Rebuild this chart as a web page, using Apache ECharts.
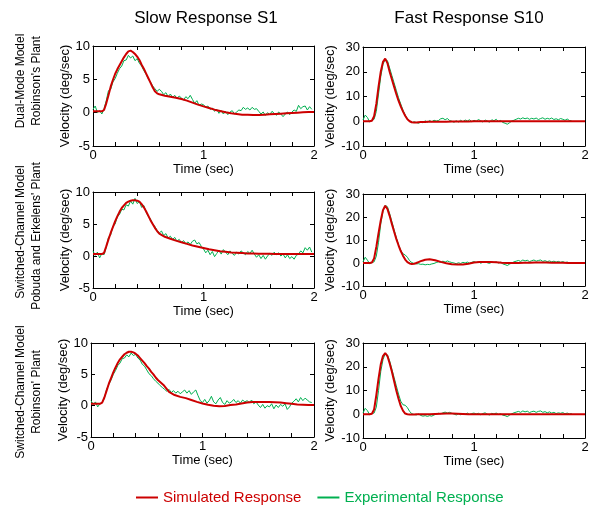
<!DOCTYPE html>
<html><head><meta charset="utf-8">
<script src="https://cdn.jsdelivr.net/npm/echarts/dist/echarts.min.js"></script>
<style>html,body{margin:0;padding:0;background:#fff}#c{width:592px;height:508px}</style>
</head><body><div id="c"></div>
<script>
// Time grid of the simulated curves (sec)
const simT = [0,0.02,0.04,0.06,0.08,0.10,0.12,0.14,0.16,0.18,0.20,0.22,0.24,0.26,0.28,0.30,0.32,0.34,0.36,0.38,0.40,0.42,0.44,0.46,0.48,0.50,0.52,0.54,0.56,0.58,0.60,0.65,0.70,0.75,0.80,0.85,0.90,0.95,1.00,1.05,1.10,1.15,1.20,1.25,1.30,1.35,1.40,1.45,1.50,1.55,1.60,1.65,1.70,1.75,1.80,1.85,1.90,1.95,2.00];
// Experimental curves are sampled every 0.02 sec starting at 0
const expStep = 0.02;

// Row 1: Dual-Mode Model, Robinson's Plant
const sim1 = [0.2,0.2,0.2,0.2,0.2,0.4,1.4,2.6,3.9,4.9, 5.8,6.5,7.1,7.7,8.3,8.8,9.2,9.3,9.1,8.8, 8.4,7.9,7.2,6.6,5.9,5.2,4.5,3.8,3.2,2.9,2.75, 2.55,2.4,2.25,2.05,1.8,1.5,1.2,0.95,0.7,0.45,0.25,0.05,-0.1,-0.2,-0.3,-0.3,-0.35,-0.35,-0.3,-0.25,-0.2,-0.15,-0.1,-0.05,0.0,0.05,0.1,0.1];
const exp1 = [0.5,1.0,0.0,0.3,-0.2,0.6,1.8,3.3,3.5,4.6, 5.1,5.9,6.6,7.0,7.8,7.9,8.6,8.2,8.5,7.8, 8.1,7.4,7.0,6.3,5.8,5.1,4.6,4.0,3.6,3.2, 3.5,3.2,2.7,3.0,2.4,2.8,2.3,2.6,2.1,2.5, 2.2,1.9,2.4,2.1,2.6,2.0,1.4,1.8,1.1,1.3, 1.2,0.8,1.0,0.5,0.7,0.2,0.5,-0.1,0.3,-0.2, 0.2,-0.3,0.1,0.3,-0.2,0.1,0.4,0.3,0.8,0.5, 0.7,0.4,0.8,0.5,0.6,0.2,-0.2,0.1,-0.4,0.0, -0.3,0.2,-0.1,-0.4,0.1,-0.2,-0.6,-0.2,0.1,-0.3, 0.1,0.4,0.2,1.1,0.6,0.9,1.0,0.4,0.9,0.5];
const sim2 = [0,0,0,0,0.2,2,7,14,20,24, 25.3,23.5,20,17,14,11,8.3,6,4,2.2, 0.8,0,-0.4,-0.5,-0.5,-0.4,-0.3,-0.3,-0.3,-0.2,-0.2, -0.2,-0.2,-0.2,-0.1,-0.1,-0.1,-0.1,0,0,0,0,0,0,0,0,0,0,0,0,0,0,0,0,0,0,0,0,0];
const exp2 = [0.5,2.5,1.5,-0.3,0.3,0.8,4,11,18,23, 25,24.5,21.5,18.5,15.5,12.5,9.5,7,4.5,2.5, 1.0,0.0,-0.6,-0.2,-0.5,-0.8,-0.3,-0.6,0.2,-0.4, 0.3,-0.2,0.4,0.1,0.3,1.0,1.2,0.6,1.1,0.3, 0.0,-0.4,0.2,-0.3,0.4,-0.2,0.5,0.1,0.6,-0.2, 0.4,0.0,0.7,0.2,-0.3,0.5,0.1,-0.4,0.6,0.2, 0.8,-0.1,0.3,-0.5,-0.8,-1.2,-0.6,0.1,0.4,0.8, 1.2,0.9,1.4,1.0,1.3,0.8,1.2,0.9,1.3,0.7, 1.1,1.4,0.8,1.2,0.9,1.3,0.7,1.0,0.6,1.1, 0.8,0.4,0.9,0.3,0.1];

// Row 2: Switched-Channel Model, Pobuda and Erkelens' Plant
const sim3 = [0.3,0.3,0.3,0.3,0.3,0.5,1.5,2.6,3.6,4.5, 5.4,6.2,6.9,7.5,7.9,8.3,8.5,8.65,8.7,8.7, 8.65,8.5,8.1,7.6,7.0,6.3,5.6,5.0,4.4,3.9,3.5, 3.0,2.7,2.4,2.15,1.9,1.65,1.45,1.25,1.05,0.9,0.75,0.65,0.55,0.5,0.45,0.4,0.4,0.35,0.35,0.35,0.3,0.3,0.3,0.3,0.3,0.3,0.3,0.3];
const exp3 = [0.8,0.1,0.6,-0.3,0.4,0.2,1.4,2.9,3.3,4.6, 5.0,6.1,6.5,7.3,7.2,8.0,7.8,8.6,8.1,9.0, 8.2,8.5,7.6,7.9,6.9,6.2,5.8,5.0,4.6,4.0, 3.6,3.9,3.2,3.5,2.8,3.1,2.6,2.9,2.3,2.6, 2.1,2.4,1.9,2.2,1.8,2.3,2.5,1.9,2.1,1.5, 1.1,0.5,0.9,0.2,0.7,-0.1,0.4,0.9,0.3,1.0, 0.6,0.2,0.8,0.4,0.1,0.6,0.3,0.8,0.5,0.2, 0.7,0.4,0.9,0.3,-0.2,0.2,-0.4,0.1,-0.5,0.0, 0.4,0.1,0.6,0.2,0.5,0.0,0.3,-0.3,0.2,-0.4, -0.1,-0.5,0.1,0.3,0.8,0.5,1.3,0.9,1.4,0.6];
const sim4 = [0,0,0,0,0.2,2,7,13,18.5,23, 24.9,23.5,20.5,17,13.7,10.5,7.7,5.2,3.2,1.5, 0.4,-0.2,-0.4,-0.3,0.0,0.4,0.8,1.1,1.4,1.55,1.6, 1.2,0.5,-0.1,-0.5,-0.7,-0.7,-0.3,0.2,0.4,0.4,0.4,0.3,0.1,0,0,0,0.1,0.1,0.2,0.2,0.2,0.1,0.1,0.1,0,0,0,0];
const exp4 = [0.5,2.5,1.2,-0.3,0.2,0.5,3,9,17,22.5, 25,24.5,21.5,18,14.5,11,8,5.5,4.0,3.5, 2.5,1.0,0.2,-0.2,-0.4,-0.3,-0.6,-0.5,-0.8,-0.6, -0.7,-0.4,-0.2,0.2,0.5,0.3,0.8,0.4,0.9,0.5, 0.2,0.0,-0.3,0.1,-0.2,0.3,0.0,0.4,-0.1,0.3, 0.6,0.2,0.5,-0.1,0.3,0.6,0.1,-0.2,0.4,0.2, 0.5,0.0,0.3,-0.4,-0.7,-1.1,-0.5,0.0,0.5,0.8, 1.1,0.7,1.3,0.9,1.2,0.6,1.0,1.3,0.8,1.1, 1.3,0.7,1.0,0.6,0.9,0.5,0.8,0.4,0.7,0.3, 0.6,0.2,0.4,0.0,0.2];

// Row 3: Switched-Channel Model, Robinson' Plant
const sim5 = [0.3,0.3,0.3,0.3,0.3,0.5,1.3,2.4,3.5,4.4, 5.3,6.1,6.8,7.4,7.8,8.2,8.45,8.6,8.6,8.5, 8.3,8.0,7.6,7.2,6.8,6.3,5.9,5.4,5.0,4.5,4.1, 3.3,2.2,1.7,1.4,1.2,0.9,0.6,0.35,0.15,0.0,-0.1,-0.05,0.1,0.2,0.35,0.5,0.6,0.6,0.6,0.6,0.55,0.5,0.4,0.3,0.2,0.15,0.1,0.1];
const exp5 = [0.8,0.2,0.6,-0.2,0.3,0.5,1.2,2.6,3.4,4.1, 5.0,5.6,6.4,6.8,7.5,7.6,8.1,7.8,8.4,8.0, 8.2,7.6,7.3,6.6,6.3,5.7,5.1,4.8,4.3,3.9, 3.6,3.2,2.9,2.6,2.3,2.6,2.1,2.4,2.0,2.3, 1.9,2.2,2.5,2.0,2.4,1.8,2.2,2.5,1.6,0.8, 0.5,1.0,0.4,0.8,1.5,0.6,0.3,0.9,1.3,0.5, 0.2,0.8,0.4,0.6,1.0,0.5,0.8,0.4,0.9,0.6, 0.8,0.5,0.9,0.3,0.6,0.1,-0.3,0.2,-0.4,0.0, -0.2,0.3,-0.5,0.1,-0.3,0.2,-0.1,0.3,-0.6,-0.2, 0.4,0.7,1.1,0.6,1.3,0.8,1.2,0.9,0.6,0.5];
const sim6 = [0,0,0,0,0.2,2,8,15,21,24.5, 25.8,24.5,21.5,18,14,10,6.5,3.5,1.5,0.3, 0,-0.1,-0.1,-0.1,0,0,0,0,0,0,0, 0.1,0.2,0.3,0.3,0.2,0.1,0,0,0,0,0,0,0,0,0,0,0,0,0,0,0,0,0,0,0,0,0,0];
const exp6 = [0.5,2.5,1.5,-0.2,0.3,0.5,3,10,18,23, 25.5,25,22.5,19,15.5,12,8.5,5.5,4.0,3.8, 2.8,1.2,0.2,-0.1,-0.3,0.1,-0.5,-0.8,-0.6,-0.9, -0.6,-0.8,-0.3,0.0,0.4,0.2,0.6,0.9,0.5,0.8, 0.4,0.1,-0.3,0.2,-0.2,0.3,0.0,0.5,-0.1,0.3, 0.5,0.1,0.4,-0.2,0.3,0.6,0.0,-0.3,0.4,0.1, 0.5,-0.1,0.2,-0.4,-0.6,-1.0,-0.4,0.2,0.6,0.9, 1.2,0.8,1.4,1.0,1.3,0.7,1.1,1.3,0.8,1.2, 1.4,0.8,1.1,0.6,1.0,0.5,0.8,0.3,0.6,0.4, 0.7,0.2,0.5,0.1,0.3];

const colTitles = ['Slow Response S1', 'Fast Response S10'];
const rowLabels = [["Dual-Mode Model", "Robinson's Plant"], ["Switched-Channel Model", "Pobuda and Erkelens' Plant"], ["Switched-Channel Model", "Robinson' Plant"]];
const xTicks = {min: 0, max: 2, interval: 0.2};
const yTicksSlow = {min: -5, max: 10, interval: 5};
const yTicksFast = {min: -10, max: 30, interval: 10};
const simName = 'Simulated Response', expName = 'Experimental Response';

const panels = [
  {sim: sim1, exp: exp1, y: yTicksSlow, grid: {left: 93, top: 46, width: 221, height: 100}},
  {sim: sim2, exp: exp2, y: yTicksFast, grid: {left: 363, top: 47, width: 222, height: 99}},
  {sim: sim3, exp: exp3, y: yTicksSlow, grid: {left: 93, top: 192, width: 221, height: 96}},
  {sim: sim4, exp: exp4, y: yTicksFast, grid: {left: 363, top: 194, width: 222, height: 92}},
  {sim: sim5, exp: exp5, y: yTicksSlow, grid: {left: 91, top: 343, width: 223, height: 94}},
  {sim: sim6, exp: exp6, y: yTicksFast, grid: {left: 363, top: 343, width: 222, height: 95}}
];

const FONT = '"Liberation Sans", Arial, Helvetica, sans-serif';
const RED = '#cc0000', GREEN = '#00b050';
const lineBlack = {color: '#000', width: 1};

const grids = [], xAxes = [], yAxes = [], series = [];
panels.forEach((p, i) => {
  grids.push(Object.assign({containLabel: false}, p.grid));
  ['bottom', 'top'].forEach(pos => {
    xAxes.push({
      type: 'value', gridIndex: i, position: pos, min: xTicks.min, max: xTicks.max, interval: xTicks.interval,
      axisLine: {show: true, onZero: false, lineStyle: lineBlack},
      axisTick: {show: true, inside: true, length: 4, lineStyle: lineBlack},
      splitLine: {show: false},
      axisLabel: pos === 'bottom' ? {show: true, color: '#000', fontSize: 13, fontFamily: FONT, margin: 3,
        formatter: v => Math.abs(v - Math.round(v)) < 1e-6 ? String(Math.round(v)) : ''} : {show: false},
      name: pos === 'bottom' ? 'Time (sec)' : '', nameLocation: 'middle', nameGap: 16,
      nameTextStyle: {color: '#000', fontSize: 13, fontFamily: FONT}
    });
  });
  ['left', 'right'].forEach(pos => {
    yAxes.push({
      type: 'value', gridIndex: i, position: pos, min: p.y.min, max: p.y.max, interval: p.y.interval,
      axisLine: {show: true, onZero: false, lineStyle: lineBlack},
      axisTick: {show: true, inside: true, length: 4, lineStyle: lineBlack},
      splitLine: {show: false},
      axisLabel: pos === 'left' ? {show: true, color: '#000', fontSize: 13, fontFamily: FONT, margin: 3} : {show: false},
      name: pos === 'left' ? 'Velocity (deg/sec)' : '', nameLocation: 'middle', nameGap: (i % 2 === 0 ? 19 : 21),
      nameTextStyle: {color: '#000', fontSize: 13, fontFamily: FONT}
    });
  });
  series.push({
    name: expName, type: 'line', xAxisIndex: 2 * i, yAxisIndex: 2 * i, showSymbol: false, symbol: 'none',
    data: p.exp.map((v, k) => [k * expStep, v]), lineStyle: {color: GREEN, width: 1}, itemStyle: {color: GREEN}, z: 2
  });
  series.push({
    name: simName, type: 'line', xAxisIndex: 2 * i, yAxisIndex: 2 * i, showSymbol: false, symbol: 'none',
    data: p.sim.map((v, k) => [simT[k], v]), lineStyle: {color: RED, width: 2}, itemStyle: {color: RED}, z: 3
  });
});

const graphic = [];
[206, 469].forEach((x, c) => graphic.push({type: 'text', x: x, y: 18,
  style: {text: colTitles[c], font: '17px ' + FONT, fill: '#000', textAlign: 'center', textVerticalAlign: 'middle', align: 'center', verticalAlign: 'middle'}}));
const rowCenters = [[81, 81], [232, 236], [392, 392]];
rowLabels.forEach((pair, r) => pair.forEach((txt, j) => graphic.push({type: 'text', x: j === 0 ? 21 : 37, y: rowCenters[r][j], rotation: Math.PI / 2,
  style: {text: txt, font: '12px ' + FONT, fill: '#000', textAlign: 'center', textVerticalAlign: 'middle', align: 'center', verticalAlign: 'middle'}})));

const chart = echarts.init(document.getElementById('c'), null, {renderer: 'canvas'});
chart.setOption({
  animation: false,
  backgroundColor: '#fff',
  grid: grids, xAxis: xAxes, yAxis: yAxes, series: series, graphic: graphic,
  legend: {
    left: 136, top: 490, padding: 0, icon: 'rect', itemWidth: 22, itemHeight: 2, itemGap: 16,
    textStyle: {fontSize: 15, fontFamily: FONT},
    data: [{name: simName, textStyle: {color: RED}}, {name: expName, textStyle: {color: GREEN}}]
  }
});
</script>
</body></html>
